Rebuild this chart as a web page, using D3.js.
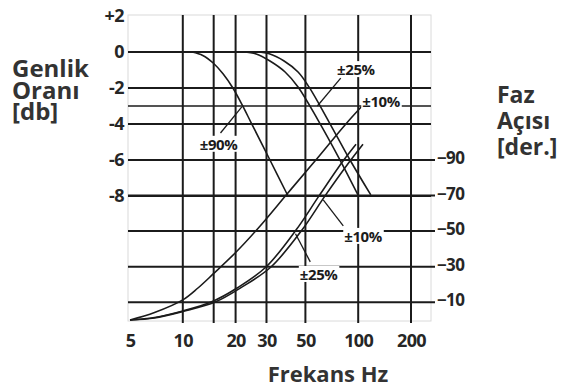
<!DOCTYPE html>
<html>
<head>
<meta charset="utf-8">
<script src="https://cdn.jsdelivr.net/npm/d3@7"></script>
<style>
  html, body { margin: 0; padding: 0; background: #fff; }
  svg { display: block; font-family: "Open Sans", "DejaVu Sans", sans-serif; }
</style>
</head>
<body>
<svg id="chart" width="569" height="392"></svg>
<script>
// ---- Axis values ----
const freqTicks = [5, 10, 20, 30, 50, 100, 200];     // labelled frequencies (Hz)
const freqGrid = [10, 15, 20, 30, 50, 100, 200];     // vertical grid lines (Hz)
const dbTicks = [2, 0, -2, -4, -6, -8];              // amplitude ratio labels (dB)
const dbGrid = [0, -2, -3, -4, -6, -8];              // amplitude grid lines (dB)
const phaseTicks = [-90, -70, -50, -30, -10];        // phase angle labels (deg)

// ---- Amplitude ratio curves: frequency (Hz) / ratio (dB) ----
const ampFreq90 = [11.3, 13.0, 14.9, 17.0, 19.3, 21.8, 24.5, 31.4, 39.8];
const ampDb90   = [0, -0.19, -0.61, -1.22, -2.0, -2.94, -3.92, -6.0, -8.0];
const ampFreq25 = [22.0, 26.2, 31.4, 38.3, 45.4, 59.0, 77.7, 99.7];
const ampDb25   = [0, -0.11, -0.5, -1.11, -1.94, -3.78, -5.89, -7.94];
const ampFreq10 = [26.5, 31.4, 37.8, 45.4, 52.4, 68.2, 89.8, 118];
const ampDb10   = [0, -0.11, -0.5, -1.11, -1.94, -3.89, -6.0, -7.94];

// ---- Phase angle curves: frequency (Hz) / phase (deg) ----
const phFreqA = [5, 6.9, 10.0, 12.2, 14.9, 20.4, 27.6, 39.3, 56.7, 84.1, 106.5];
const phDegA  = [0, -4.2, -11.3, -18.0, -25.9, -38.8, -52.9, -70.9, -89.4, -109.7, -120.9];
const phFreqB = [5, 6.9, 10.0, 14.5, 20.4, 29.8, 44.2, 59.8, 81.9, 97.2];
const phDegB  = [0, -1.4, -5.1, -10.1, -18.0, -29.8, -50.6, -69.8, -89.4, -98.9];
const phFreqC = [5, 6.9, 10.0, 15.3, 21.8, 31.8, 47.8, 64.7, 89.8, 106.5];
const phDegC  = [0, -1.1, -4.8, -10.1, -18.6, -29.8, -50.6, -69.8, -89.4, -98.9];

// ---- Tolerance call-outs ----
const ampNoteText = ["±90%", "±25%", "±10%"];
const ampNoteFreq = [16.0, 97, 135];
const ampNoteDb   = [-5.1, -0.95, -2.72];
const phNoteText = ["±10%", "±25%"];
const phNoteFreq = [106.6, 59.5];
const phNoteDeg  = [-47.3, -25.9];
// leader lines [from, to]
const ampLeadFreq = [[16.4, 21.7], [79.5, 58.5]];
const ampLeadDb   = [[-4.5, -3.05], [-1.45, -3.0]];
const phLeadFreq  = [[82.2, 63.2], [53.3, 43.9]];
const phLeadDeg   = [[-53, -67.6], [-32.7, -48.5]];

// ---- Scales ----
const x = d3.scaleLog().domain([5, 200]).range([130, 411]);
const yDb = d3.scaleLinear().domain([-8, 2]).range([196, 16]);
const yPh = d3.scaleLinear().domain([-90, 0]).range([160, 320]);

const svg = d3.select("#chart");
const ink = "#1b1b1b";
const textInk = "#262626";

const plotL = 128, plotR = 431, plotT = 15, plotB = 321;

// light plot frame
svg.append("rect")
  .attr("x", plotL).attr("y", plotT)
  .attr("width", plotR - plotL).attr("height", plotB - plotT)
  .attr("fill", "none").attr("stroke", "#dadada").attr("stroke-width", 1);

// vertical grid
svg.append("g").selectAll("line").data(freqGrid).join("line")
  .attr("x1", d => x(d)).attr("x2", d => x(d))
  .attr("y1", plotT).attr("y2", plotB + 2)
  .attr("stroke", ink).attr("stroke-width", 2);

// horizontal grid (amplitude)
svg.append("g").selectAll("line").data(dbGrid).join("line")
  .attr("x1", plotL).attr("x2", plotR)
  .attr("y1", d => yDb(d)).attr("y2", d => yDb(d))
  .attr("stroke", ink).attr("stroke-width", d => d === -3 ? 1.5 : 2);

// horizontal grid (phase) with right-hand tick marks
svg.append("g").selectAll("line").data(phaseTicks).join("line")
  .attr("x1", plotL).attr("x2", plotR + 4)
  .attr("y1", d => yPh(d)).attr("y2", d => yPh(d))
  .attr("stroke", ink).attr("stroke-width", 2);

// ---- curves ----
const line = d3.line().curve(d3.curveCatmullRom.alpha(0.5));
const curves = [
  d3.zip(ampFreq90, ampDb90).map(([f, v]) => [x(f), yDb(v)]),
  d3.zip(ampFreq25, ampDb25).map(([f, v]) => [x(f), yDb(v)]),
  d3.zip(ampFreq10, ampDb10).map(([f, v]) => [x(f), yDb(v)]),
  d3.zip(phFreqA, phDegA).map(([f, v]) => [x(f), yPh(v)]),
  d3.zip(phFreqB, phDegB).map(([f, v]) => [x(f), yPh(v)]),
  d3.zip(phFreqC, phDegC).map(([f, v]) => [x(f), yPh(v)])
];
svg.append("g").selectAll("path").data(curves).join("path")
  .attr("d", line)
  .attr("fill", "none").attr("stroke", ink).attr("stroke-width", 1.6);

// ---- leader lines ----
const leaders = [
  ...ampLeadFreq.map((fs, i) => fs.map((f, j) => [x(f), yDb(ampLeadDb[i][j])])),
  ...phLeadFreq.map((fs, i) => fs.map((f, j) => [x(f), yPh(phLeadDeg[i][j])]))
];
svg.append("g").selectAll("path").data(leaders).join("path")
  .attr("d", d3.line())
  .attr("fill", "none").attr("stroke", ink).attr("stroke-width", 1.3);

// ---- call-out labels on white boxes ----
const notes = [
  ...ampNoteText.map((t, i) => ({ t, px: x(ampNoteFreq[i]), py: yDb(ampNoteDb[i]) })),
  ...phNoteText.map((t, i) => ({ t, px: x(phNoteFreq[i]), py: yPh(phNoteDeg[i]) }))
];
const noteG = svg.append("g").selectAll("g").data(notes).join("g");
noteG.append("rect").attr("fill", "#fff");
noteG.append("text")
  .attr("x", d => d.px).attr("y", d => d.py)
  .attr("text-anchor", "middle").attr("dominant-baseline", "central")
  .attr("font-size", 15).attr("font-weight", 700).attr("letter-spacing", -0.4)
  .attr("fill", ink)
  .text(d => d.t);
noteG.each(function () {
  const g = d3.select(this);
  const b = g.select("text").node().getBBox();
  g.select("rect").attr("x", b.x - 1).attr("y", b.y + 2)
    .attr("width", b.width + 2).attr("height", b.height - 4);
});

// ---- axes ----
const tickFont = (sel, size) => sel.selectAll("text")
  .attr("font-family", '"Open Sans", sans-serif')
  .attr("font-size", size).attr("font-weight", 700)
  .attr("letter-spacing", -0.6).attr("fill", textInk);

const xAxis = svg.append("g").attr("transform", `translate(0,${plotB + 13})`)
  .call(d3.axisBottom(x).tickValues(freqTicks).tickFormat(d3.format("d"))
    .tickSize(0).tickPadding(0));
xAxis.select(".domain").remove();
tickFont(xAxis, 18);

const yAxis = svg.append("g").attr("transform", `translate(${plotL - 4},0)`)
  .call(d3.axisLeft(yDb).tickValues(dbTicks)
    .tickFormat(d => d > 0 ? "+" + d : String(d)).tickSize(0).tickPadding(0));
yAxis.select(".domain").remove();
tickFont(yAxis, 18);

const pAxis = svg.append("g").attr("transform", `translate(${plotR + 5},-2)`)
  .call(d3.axisRight(yPh).tickValues(phaseTicks).tickFormat(d3.format("d"))
    .tickSize(0).tickPadding(1));
pAxis.select(".domain").remove();
tickFont(pAxis, 17);

// ---- axis titles ----
const title = (lines, xPos, ys, anchor, size) => {
  lines.forEach((t, i) => {
    svg.append("text")
      .attr("x", xPos).attr("y", ys[i])
      .attr("text-anchor", anchor)
      .attr("font-size", size).attr("font-weight", 700)
      .attr("fill", "#333")
      .text(t);
  });
};
title(["Genlik", "Oranı", "[db]"], 12, [77, 99, 120], "start", 24);
title(["Faz", "Açısı", "[der.]"], 497, [103, 129, 155], "start", 23);
title(["Frekans Hz"], 328, [382], "middle", 22);
</script>
</body>
</html>
